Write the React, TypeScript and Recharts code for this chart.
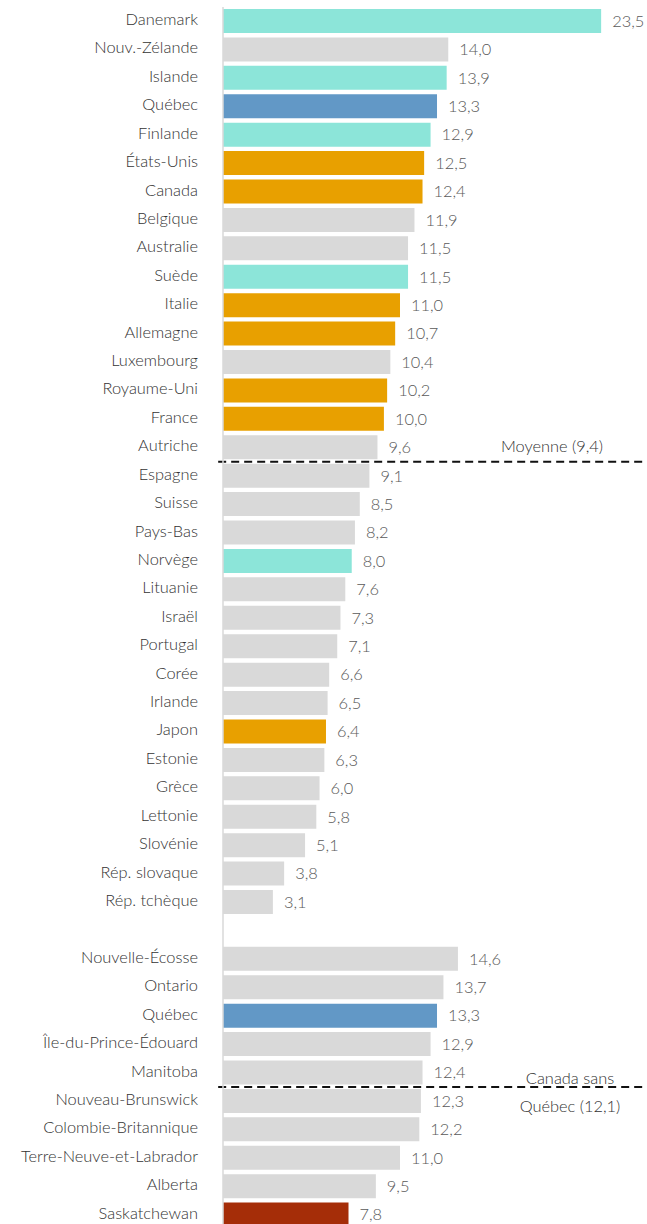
import { BarChart, Bar, XAxis, YAxis, Cell, LabelList, ReferenceLine } from 'recharts';

const oecdCountries = [
  'Danemark', 'Nouv.-Zélande', 'Islande', 'Québec', 'Finlande', 'États-Unis', 'Canada', 'Belgique',
  'Australie', 'Suède', 'Italie', 'Allemagne', 'Luxembourg', 'Royaume-Uni', 'France', 'Autriche',
  'Espagne', 'Suisse', 'Pays-Bas', 'Norvège', 'Lituanie', 'Israël', 'Portugal', 'Corée',
  'Irlande', 'Japon', 'Estonie', 'Grèce', 'Lettonie', 'Slovénie', 'Rép. slovaque', 'Rép. tchèque',
];
const oecdValues = [
  23.5, 14.0, 13.9, 13.3, 12.9, 12.5, 12.4, 11.9, 11.5, 11.5, 11.0, 10.7, 10.4, 10.2, 10.0, 9.6,
  9.1, 8.5, 8.2, 8.0, 7.6, 7.3, 7.1, 6.6, 6.5, 6.4, 6.3, 6.0, 5.8, 5.1, 3.8, 3.1,
];

const provinces = [
  'Nouvelle-Écosse', 'Ontario', 'Québec', 'Île-du-Prince-Édouard', 'Manitoba', 'Nouveau-Brunswick',
  'Colombie-Britannique', 'Terre-Neuve-et-Labrador', 'Alberta', 'Saskatchewan',
];
const provinceValues = [14.6, 13.7, 13.3, 12.9, 12.4, 12.3, 12.2, 11.0, 9.5, 7.8];

const nordic = ['Danemark', 'Islande', 'Finlande', 'Suède', 'Norvège'];
const g7 = ['États-Unis', 'Canada', 'Italie', 'Allemagne', 'Royaume-Uni', 'France', 'Japon'];
const lowest = ['Saskatchewan'];

const oecdAverage = 9.4;
const canadaWithoutQuebec = 12.1;

const rows = [
  ...oecdCountries.map((name, i) => ({ idx: i, name, value: oecdValues[i] })),
  ...provinces.map((name, i) => ({ idx: oecdCountries.length + 1 + i, name, value: provinceValues[i] })),
];

function colorFor(name: string) {
  if (name === 'Québec') return '#6298c6';
  if (nordic.includes(name)) return '#8ce5d9';
  if (g7.includes(name)) return '#e8a000';
  if (lowest.includes(name)) return '#a52d08';
  return '#d9d9d9';
}

const fmt = (v: number) => v.toFixed(1).replace('.', ',');
const FONT = 'Lato, "Noto Sans", sans-serif';
const FS = 16.4;

export default function App() {
  const nameByIdx: Record<number, string> = {};
  rows.forEach((r) => (nameByIdx[r.idx] = r.name));
  const lastIdx = rows[rows.length - 1].idx;

  return (
    <div style={{ position: 'absolute', left: 0, top: 0, width: 647, height: 1224, overflow: 'hidden', background: '#fff' }}>
      <BarChart
        width={647}
        height={1229}
        data={rows}
        layout="vertical"
        margin={{ top: 7, right: 0, bottom: 0, left: 0 }}
      >
        <XAxis type="number" domain={[0, 26.35]} hide allowDataOverflow />
        <YAxis
          type="number"
          dataKey="idx"
          domain={[-0.5, lastIdx + 0.5]}
          allowDataOverflow
          ticks={rows.map((r) => r.idx)}
          interval={0}
          width={223}
          tickLine={false}
          tickSize={0}
          tickMargin={25}
          axisLine={{ stroke: '#d9d9d9', strokeWidth: 1.5 }}
          tick={{ fill: '#333', fontSize: FS, fontFamily: FONT, fontWeight: 300, dy: -2 }}
          tickFormatter={(v: number) => nameByIdx[v] ?? ''}
        />
        <Bar dataKey="value" barSize={24} isAnimationActive={false}>
          {rows.map((r) => (
            <Cell key={r.idx} fill={colorFor(r.name)} />
          ))}
          <LabelList
            dataKey="value"
            position="right"
            offset={11}
            formatter={(v: number) => fmt(v)}
            style={{ fill: '#595959', fontSize: FS, fontFamily: FONT, fontWeight: 300 }}
          />
        </Bar>
        <ReferenceLine
          segment={[
            { x: -0.3, y: 15.5 },
            { x: 26.35, y: 15.5 },
          ]}
          ifOverflow="visible"
          stroke="#111"
          strokeWidth={2}
          strokeDasharray="8 5"
          label={({ viewBox }: any) => (
            <text
              x={viewBox.x + viewBox.width - 95}
              y={viewBox.y - 15}
              dy="0.35em"
              textAnchor="middle"
              fill="#333"
              fontSize={FS}
              fontWeight={300}
              fontFamily={FONT}
            >
              {`Moyenne (${fmt(oecdAverage)})`}
            </text>
          )}
        />
        <ReferenceLine
          segment={[
            { x: -0.3, y: 37.5 },
            { x: 26.35, y: 37.5 },
          ]}
          ifOverflow="visible"
          stroke="#111"
          strokeWidth={2}
          strokeDasharray="8 5"
          label={({ viewBox }: any) => (
            <g fill="#333" fontSize={FS} fontWeight={300} fontFamily={FONT}>
              <text x={viewBox.x + viewBox.width - 77} y={viewBox.y - 9} dy="0.35em" textAnchor="middle">
                Canada sans
              </text>
              <text x={viewBox.x + viewBox.width - 77} y={viewBox.y + 19} dy="0.35em" textAnchor="middle">
                {`Québec (${fmt(canadaWithoutQuebec)})`}
              </text>
            </g>
          )}
        />
      </BarChart>
    </div>
  );
}
